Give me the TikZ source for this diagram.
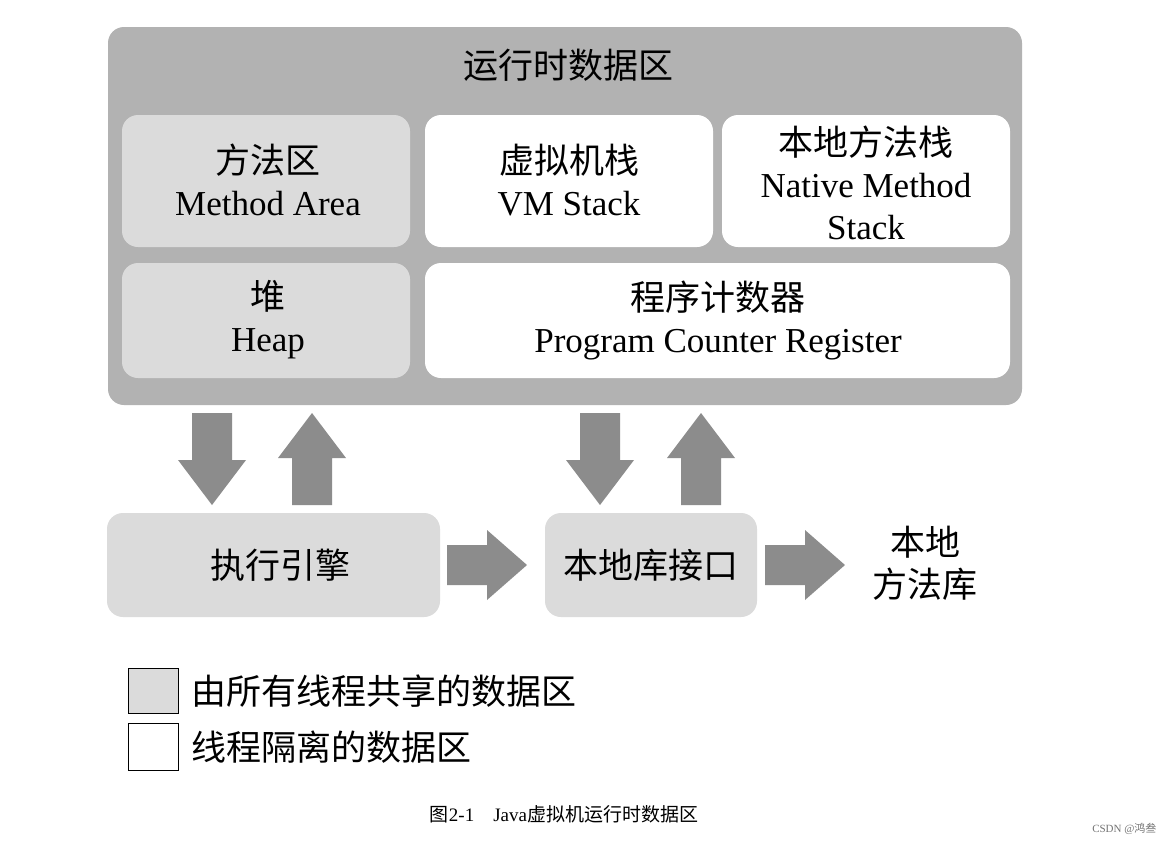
\documentclass[tikz,border=0pt]{standalone}
\usepackage{fontspec}
\setmainfont{Liberation Serif}
\newfontfamily\cjk{Noto Sans CJK SC}
\begin{document}
\begin{tikzpicture}[x=1pt,y=-1pt,
  outer/.style={fill=black!30,rounded corners=16pt},
  shared/.style={fill=black!14,rounded corners=16pt},
  priv/.style={fill=white,rounded corners=16pt},
  lbl/.style={align=center,font=\fontsize{35}{42}\selectfont},
  arr/.style={fill=black!45}]
\useasboundingbox (0,0) rectangle (1169,844);
\fill[white] (0,0) rectangle (1169,844);
\fill[outer] (108,27) rectangle (1022,405);
\node[lbl] (title) at (568,65) {\cjk 运行时数据区};
\fill[shared] (122,115) rectangle (410,247);
\node[lbl] (ma) at (268,180) {{\cjk 方法区}\\Method Area};
\fill[priv] (425,115) rectangle (713,247);
\node[lbl] (vm) at (569,180) {{\cjk 虚拟机栈}\\VM Stack};
\fill[priv] (722,115) rectangle (1010,247);
\node[lbl] (ns) at (866,183) {{\cjk 本地方法栈}\\Native Method\\Stack};
\fill[shared] (122,263) rectangle (410,378);
\node[lbl] (heap) at (268,320) {{\cjk 堆}\\Heap};
\fill[priv] (425,263) rectangle (1010,378);
\node[lbl] (pc) at (718,320) {{\cjk 程序计数器}\\Program Counter Register};
% vertical arrows
\foreach \cx in {212,600} {
  \fill[arr] (\cx-20,413) -- (\cx+20,413) -- (\cx+20,460) -- (\cx+34,460) -- (\cx,505) -- (\cx-34,460) -- (\cx-20,460) -- cycle;}
\foreach \cx in {312,701} {
  \fill[arr] (\cx-20,505) -- (\cx+20,505) -- (\cx+20,458) -- (\cx+34,458) -- (\cx,413) -- (\cx-34,458) -- (\cx-20,458) -- cycle;}
\fill[shared] (107,513) rectangle (440,617);
\node[lbl] (ee) at (280,565) {\cjk 执行引擎};
\fill[shared] (545,513) rectangle (757,617);
\node[lbl] (ni) at (651,565) {\cjk 本地库接口};
\foreach \x in {447,765} {
  \fill[arr] (\x,545) -- (\x+40,545) -- (\x+40,530) -- (\x+80,565) -- (\x+40,600) -- (\x+40,585) -- (\x,585) -- cycle;}
\node[lbl] (nl) at (925,563) {\cjk 本地\\\cjk 方法库};
% legend
\draw[fill=black!14,line width=1pt] (128,668) rectangle (178,713);
\node[lbl,anchor=west] (l1) at (188,691) {\cjk 由所有线程共享的数据区};
\draw[fill=white,line width=1pt] (128,723) rectangle (178,770);
\node[lbl,anchor=west] (l2) at (188,747) {\cjk 线程隔离的数据区};
\node[font=\fontsize{19}{21}\selectfont] (cap) at (564,814) {{\cjk 图}2-1\quad Java{\cjk 虚拟机运行时数据区}};
\node[font=\fontsize{11}{13}\selectfont,text=black!55,anchor=east] (wm) at (1160,829) {CSDN @{\cjk 鸿叁}};
\end{tikzpicture}
\end{document}
